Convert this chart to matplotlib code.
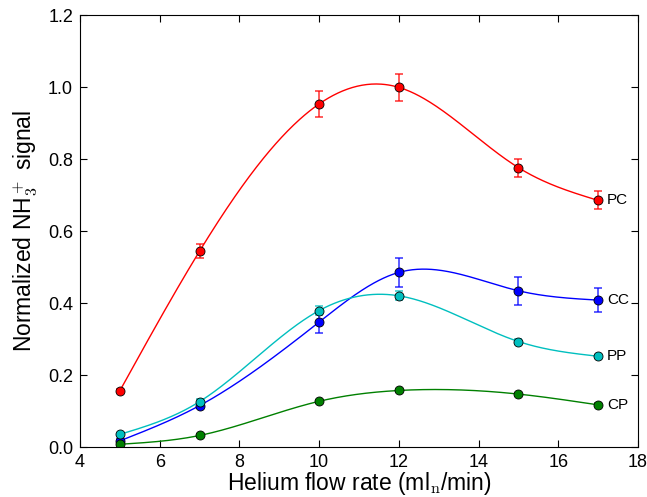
import numpy as np
import matplotlib.pyplot as plt

plt.rcParams['font.family'] = ['Liberation Sans', 'DejaVu Sans']
plt.rcParams['mathtext.fontset'] = 'cm'

flow = [5, 7, 10, 12, 15, 17]

pc = [0.156, 0.544, 0.953, 0.999, 0.776, 0.685]
pc_err = [0.004, 0.02, 0.035, 0.038, 0.025, 0.025]
cc = [0.017, 0.115, 0.347, 0.485, 0.434, 0.408]
cc_err = [0.005, 0.008, 0.031, 0.041, 0.039, 0.034]
pp = [0.035, 0.126, 0.379, 0.420, 0.293, 0.252]
pp_err = [0.003, 0.006, 0.013, 0.012, 0.008, 0.004]
cp = [0.0075, 0.032, 0.127, 0.157, 0.147, 0.117]
cp_err = [0.002, 0.003, 0.004, 0.004, 0.004, 0.004]

series = [
    ('PC', pc, pc_err, 'r'),
    ('CC', cc, cc_err, 'b'),
    ('PP', pp, pp_err, 'c'),
    ('CP', cp, cp_err, 'g'),
]


def natural_spline(x, y, xs):
    x = np.asarray(x, float)
    y = np.asarray(y, float)
    n = len(x)
    h = np.diff(x)
    A = np.zeros((n, n))
    r = np.zeros(n)
    A[0, 0] = 1
    A[-1, -1] = 1
    for i in range(1, n - 1):
        A[i, i - 1] = h[i - 1]
        A[i, i] = 2 * (h[i - 1] + h[i])
        A[i, i + 1] = h[i]
        r[i] = 6 * ((y[i + 1] - y[i]) / h[i] - (y[i] - y[i - 1]) / h[i - 1])
    M = np.linalg.solve(A, r)
    idx = np.clip(np.searchsorted(x, xs) - 1, 0, n - 2)
    x0, x1 = x[idx], x[idx + 1]
    hh = x1 - x0
    t0 = x1 - xs
    t1 = xs - x0
    return (M[idx] * t0 ** 3 / (6 * hh) + M[idx + 1] * t1 ** 3 / (6 * hh)
            + (y[idx] / hh - M[idx] * hh / 6) * t0
            + (y[idx + 1] / hh - M[idx + 1] * hh / 6) * t1)


fig = plt.figure(figsize=(6.47, 4.97), dpi=100)
ax = fig.add_axes([0.1236, 0.1006, 0.8625, 0.8692])

xs = np.linspace(flow[0], flow[-1], 400)
for name, vals, errs, col in series:
    ax.plot(xs, natural_spline(flow, vals, xs), color=col, lw=1.0)
    ax.errorbar(flow, vals, yerr=errs, fmt='none', ecolor=col, alpha=0.75,
                elinewidth=1.2, capsize=3, capthick=1.2)
    ax.plot(flow, vals, 'o', color=col, mec='k', mew=0.6, ms=6.5)
    ax.text(flow[-1] + 0.22, vals[-1], name, fontsize=11, va='center', ha='left')

ax.set_xlim(4, 18)
ax.set_ylim(0, 1.2)
ax.set_xticks([4, 6, 8, 10, 12, 14, 16, 18])
ax.set_yticks([0.0, 0.2, 0.4, 0.6, 0.8, 1.0, 1.2])
ax.set_yticklabels(['0.0', '0.2', '0.4', '0.6', '0.8', '1.0', '1.2'])
ax.tick_params(direction='in', top=True, right=True, length=5, labelsize=13, pad=5)
ax.set_xlabel(r'Helium flow rate (ml$_\mathrm{n}$/min)', fontsize=16.5, labelpad=-1)
ax.set_ylabel(r'Normalized NH$_3^+$ signal', fontsize=16.5, labelpad=6)

fig.savefig('out.png', dpi=100)
